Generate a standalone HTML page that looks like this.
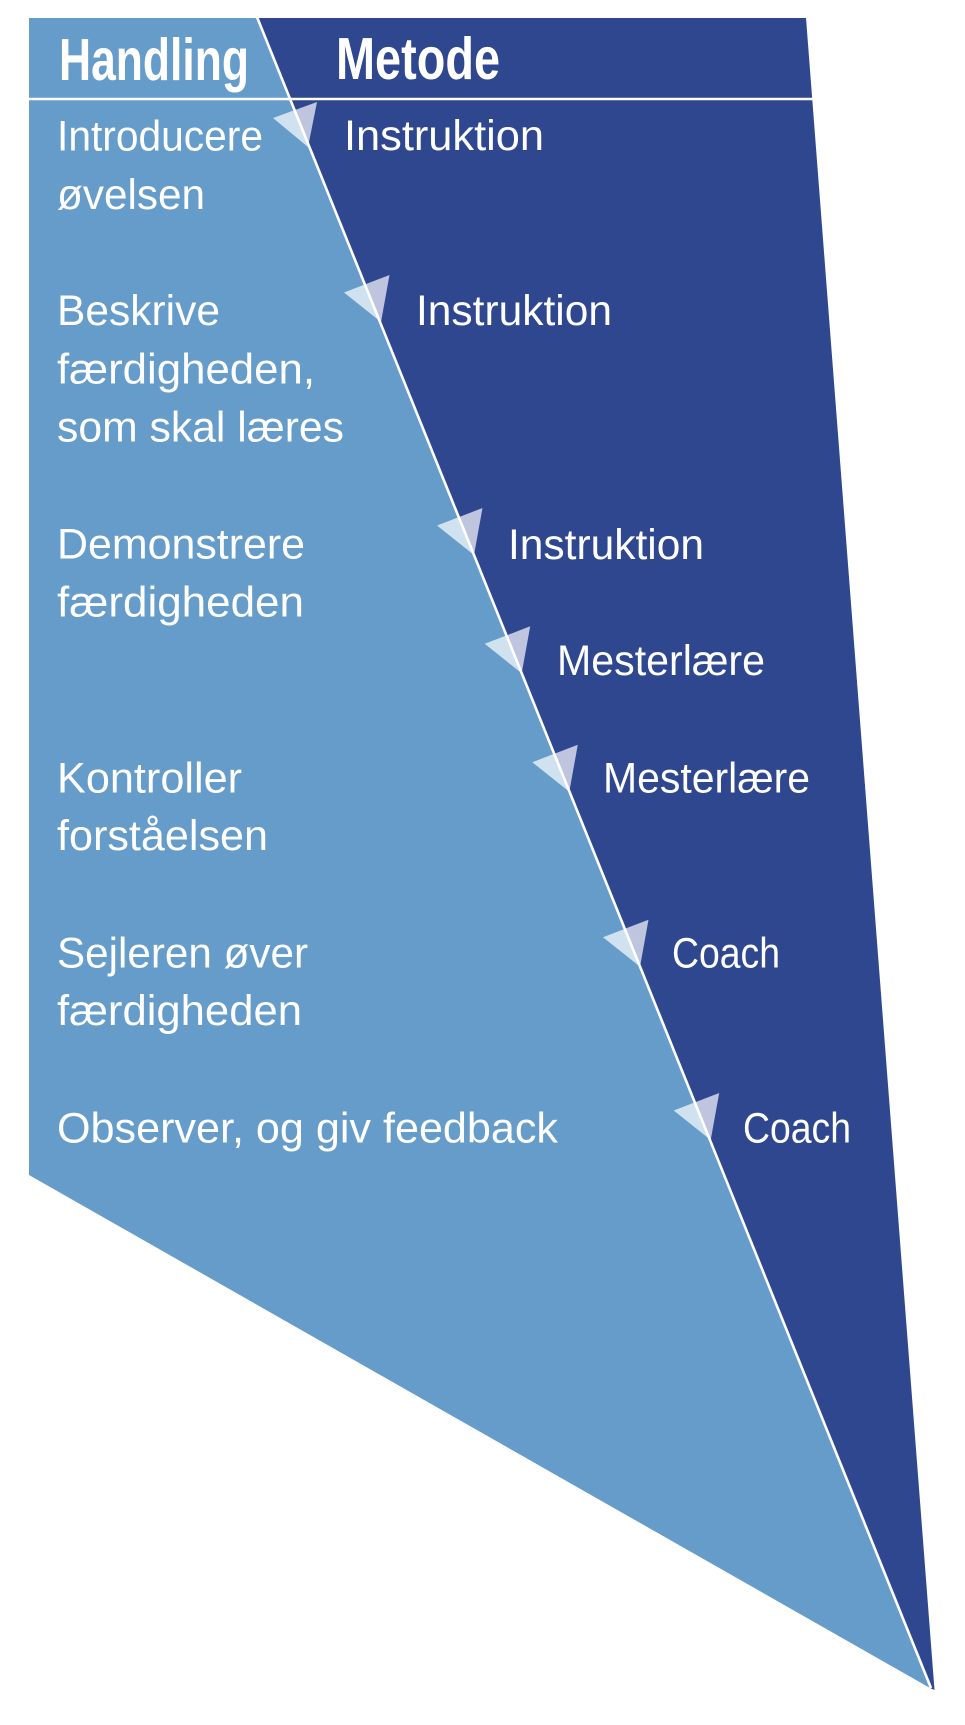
<!DOCTYPE html>
<html>
<head>
<meta charset="utf-8">
<style>
  html, body { margin: 0; padding: 0; background: #ffffff; }
  body { width: 965px; height: 1725px; overflow: hidden; }
  svg { display: block; }
  text { font-family: "Liberation Sans", "DejaVu Sans", sans-serif; fill: #ffffff; }
  .b { font-size: 43px; }
  .h { font-size: 59px; font-weight: bold; }
</style>
</head>
<body>
<svg width="965" height="1725" viewBox="0 0 965 1725" xmlns="http://www.w3.org/2000/svg">
  <defs>
    <clipPath id="cl">
      <polygon points="29,18 257,18 930,1688 29,1175"/>
    </clipPath>
    <clipPath id="cd">
      <polygon points="257,18 806,18 934.5,1690 930,1688"/>
    </clipPath>
  </defs>

  <!-- dark panel -->
  <polygon points="257,18 806,18 934.5,1690 930,1688" fill="#2E478F"/>
  <!-- light panel -->
  <polygon points="29,18 257,18 930,1688 29,1175" fill="#669CCA"/>

  <!-- arrows (light part) -->
  <g clip-path="url(#cl)" fill="#D0E1F0">
    <polygon points="273,118 317,102 308,147"/>
    <polygon points="344,292.5 389.5,275 381,322"/>
    <polygon points="437,525.5 482.5,508 474,555"/>
    <polygon points="484.7,643.8 530.2,626.3 521.7,673.3"/>
    <polygon points="532.3,762.2 577.8,744.7 569.3,791.7"/>
    <polygon points="603,937.2 648.5,919.7 640,966.7"/>
    <polygon points="673.7,1110.5 719.2,1093 710.7,1140"/>
  </g>
  <!-- arrows (dark overlap part) -->
  <g clip-path="url(#cd)" fill="#BFC5DE">
    <polygon points="273,118 317,102 308,147"/>
    <polygon points="344,292.5 389.5,275 381,322"/>
    <polygon points="437,525.5 482.5,508 474,555"/>
    <polygon points="484.7,643.8 530.2,626.3 521.7,673.3"/>
    <polygon points="532.3,762.2 577.8,744.7 569.3,791.7"/>
    <polygon points="603,937.2 648.5,919.7 640,966.7"/>
    <polygon points="673.7,1110.5 719.2,1093 710.7,1140"/>
  </g>

  <!-- white lines -->
  <line x1="29" y1="99" x2="813" y2="99" stroke="#ffffff" stroke-width="2.6"/>
  <line x1="257" y1="17" x2="931" y2="1688" stroke="#ffffff" stroke-width="2.6"/>

  <!-- headings -->
  <text class="h" x="59" y="80" textLength="190" lengthAdjust="spacingAndGlyphs">Handling</text>
  <text class="h" x="336" y="79" textLength="164" lengthAdjust="spacingAndGlyphs">Metode</text>

  <!-- left column -->
  <text class="b" x="57" y="150.5" textLength="206" lengthAdjust="spacingAndGlyphs">Introducere</text>
  <text class="b" x="57" y="209" textLength="148" lengthAdjust="spacingAndGlyphs">øvelsen</text>

  <text class="b" x="57" y="325" textLength="163" lengthAdjust="spacingAndGlyphs">Beskrive</text>
  <text class="b" x="57" y="383.3" textLength="258" lengthAdjust="spacingAndGlyphs">færdigheden,</text>
  <text class="b" x="57" y="441.7" textLength="287" lengthAdjust="spacingAndGlyphs">som skal læres</text>

  <text class="b" x="57" y="558.3" textLength="248" lengthAdjust="spacingAndGlyphs">Demonstrere</text>
  <text class="b" x="57" y="616.7" textLength="247" lengthAdjust="spacingAndGlyphs">færdigheden</text>

  <text class="b" x="57" y="792.3" textLength="185" lengthAdjust="spacingAndGlyphs">Kontroller</text>
  <text class="b" x="57" y="850" textLength="211" lengthAdjust="spacingAndGlyphs">forståelsen</text>

  <text class="b" x="57" y="967.7" textLength="251" lengthAdjust="spacingAndGlyphs">Sejleren øver</text>
  <text class="b" x="57" y="1025" textLength="245" lengthAdjust="spacingAndGlyphs">færdigheden</text>

  <text class="b" x="57" y="1142.3" textLength="501" lengthAdjust="spacingAndGlyphs">Observer, og giv feedback</text>

  <!-- right column -->
  <text class="b" x="344" y="150" textLength="200" lengthAdjust="spacingAndGlyphs">Instruktion</text>
  <text class="b" x="416" y="325" textLength="196" lengthAdjust="spacingAndGlyphs">Instruktion</text>
  <text class="b" x="508" y="559" textLength="196" lengthAdjust="spacingAndGlyphs">Instruktion</text>
  <text class="b" x="557" y="675" textLength="208" lengthAdjust="spacingAndGlyphs">Mesterlære</text>
  <text class="b" x="603" y="792.5" textLength="207" lengthAdjust="spacingAndGlyphs">Mesterlære</text>
  <text class="b" x="672" y="967.3" textLength="108" lengthAdjust="spacingAndGlyphs">Coach</text>
  <text class="b" x="743" y="1142.3" textLength="108" lengthAdjust="spacingAndGlyphs">Coach</text>
</svg>
</body>
</html>
